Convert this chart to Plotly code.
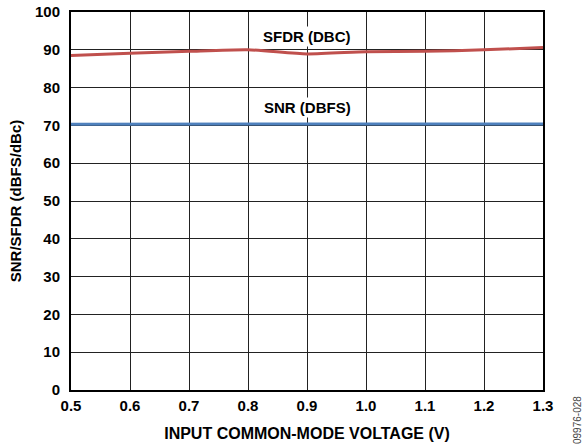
import plotly.graph_objects as go

# input common-mode voltage (V)
vcm = [0.5, 0.6, 0.7, 0.8, 0.9, 1.0, 1.1, 1.2, 1.3]
# SFDR (dBc) and SNR (dBFS)
sfdr = [88.5, 89.1, 89.6, 90.0, 88.9, 89.5, 89.6, 90.0, 90.6]
snr = [70.3, 70.3, 70.4, 70.4, 70.4, 70.4, 70.4, 70.4, 70.4]

fam = "Liberation Sans, Arial, sans-serif"
bold = dict(family=fam, size=15, color="black", weight=700)

fig = go.Figure()
fig.add_trace(go.Scatter(x=vcm, y=sfdr, mode="lines", line=dict(color="#c0504d", width=3, shape="spline", smoothing=0.6), name="SFDR"))
fig.add_trace(go.Scatter(x=vcm, y=snr, mode="lines", line=dict(color="#4f81bd", width=3), name="SNR"))

# labels on the curves
fig.add_annotation(x=0.9, y=93.4, text="SFDR (DBC)", showarrow=False, bgcolor="white", font=bold)
fig.add_annotation(x=0.9, y=74.7, text="SNR (DBFS)", showarrow=False, bgcolor="white", font=bold)

# figure number on the side
fig.add_annotation(x=1.0, xref="paper", xanchor="center", xshift=34, y=0, yref="paper", yanchor="bottom", yshift=-56,
                   text="09976-028", textangle=-90, showarrow=False,
                   font=dict(family=fam, size=10, color="#444"))

fig.update_layout(
    width=582, height=448,
    margin=dict(l=71, r=39, t=12, b=58),
    plot_bgcolor="white", paper_bgcolor="white",
    showlegend=False,
    font=dict(family=fam, size=13, color="black"),
)
fig.update_xaxes(range=[0.5, 1.3], dtick=0.1, tickformat=".1f",
                 showgrid=True, gridcolor="#222", gridwidth=1,
                 showline=True, linecolor="black", linewidth=2, mirror=True,
                 ticks="", ticklabelstandoff=1, automargin=False,
                 tickfont=bold,
                 title=dict(text="INPUT COMMON-MODE VOLTAGE (V)", standoff=15,
                            font=dict(family=fam, size=16, color="black", weight=700)))
fig.update_yaxes(range=[0, 100], dtick=10,
                 showgrid=True, gridcolor="#222", gridwidth=1,
                 showline=True, linecolor="black", linewidth=2, mirror=True,
                 ticks="", zeroline=False, ticklabelstandoff=6, automargin=False,
                 tickfont=bold,
                 title=dict(text="SNR/SFDR (dBFS/dBc)", standoff=10,
                            font=dict(family=fam, size=15, color="black", weight=700)))

# drop the default 8px body margin so the figure fills the window
fig.write_html("out.html", config={"displayModeBar": False},
               post_script="document.body.style.margin='0';")
